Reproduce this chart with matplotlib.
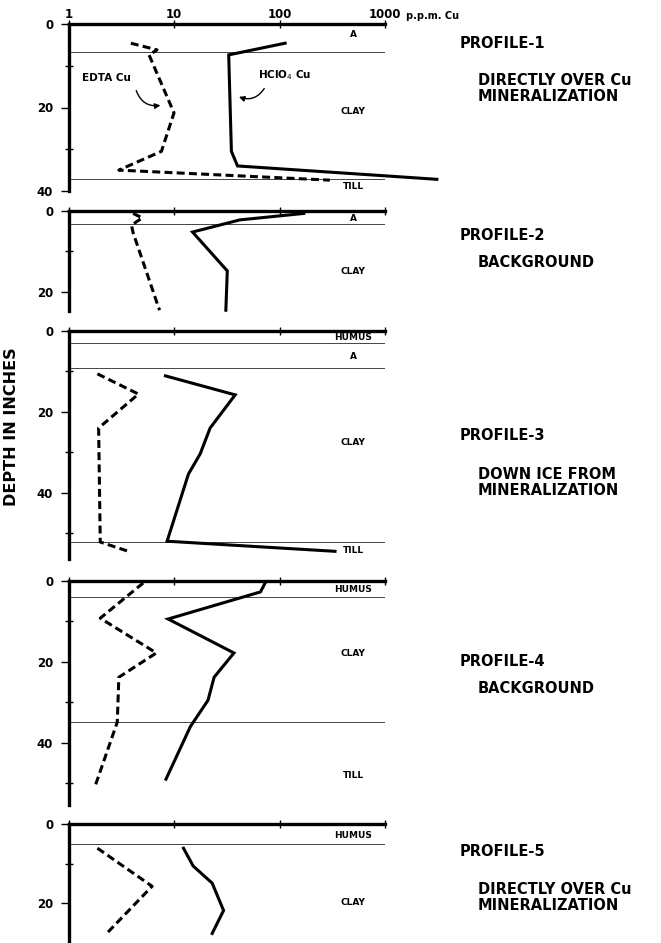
import matplotlib
matplotlib.use("Agg")
import matplotlib.pyplot as plt

# ---------------- data (ppm Cu vs depth in inches) ----------------
p1_edta_ppm = [3.9, 6.9, 5.8, 10, 7.6, 3.0, 300]
p1_edta_depth = [4.6, 6.2, 7.4, 21.3, 30.5, 35, 37.4]
p1_hclo4_ppm = [113, 33, 35, 40, 3100]
p1_hclo4_depth = [4.6, 7.4, 30.5, 34.0, 37.2]

p2_edta_ppm = [4.1, 5.0, 3.95, 4.1, 6.9, 7.3]
p2_edta_depth = [0.6, 1.7, 3.5, 5.4, 22.7, 24.5]
p2_hclo4_ppm = [170, 42, 15, 32, 31]
p2_hclo4_depth = [0.6, 2.2, 5.2, 14.8, 24.5]

p3_edta_ppm = [1.88, 4.6, 1.93, 2.0, 3.7]
p3_edta_depth = [10.6, 15.6, 24.0, 52.2, 54.5]
p3_hclo4_ppm = [8.3, 38, 22, 17.7, 13.7, 8.6, 336]
p3_hclo4_depth = [11.1, 15.8, 24.0, 30.4, 35.4, 52.0, 54.5]

p4_edta_ppm = [5.1, 2.0, 6.8, 3.0, 2.9, 1.8]
p4_edta_depth = [0.5, 9.2, 17.8, 23.8, 34.9, 50.5]
p4_hclo4_ppm = [73, 66, 8.8, 37, 24, 21, 14.3, 8.4]
p4_hclo4_depth = [0.5, 2.7, 9.4, 17.8, 23.8, 29.5, 36.0, 49.0]

p5_edta_ppm = [1.88, 6.2, 2.3]
p5_edta_depth = [6.1, 15.7, 27.6]
p5_hclo4_ppm = [12.3, 15.2, 23, 29.5, 23]
p5_hclo4_depth = [6.1, 10.6, 14.9, 21.8, 27.6]

# horizon boundaries (depth) and horizon labels (name, depth)
p1_horizons = [6.7, 37.2]
p1_labels = [("A", 2.6), ("CLAY", 20.9), ("TILL", 39.0)]
p2_horizons = [3.2]
p2_labels = [("A", 1.9), ("CLAY", 15.0)]
p3_horizons = [3.0, 9.2, 52.2]
p3_labels = [("HUMUS", 1.6), ("A", 6.2), ("CLAY", 27.7), ("TILL", 54.2)]
p4_horizons = [4.0, 34.9]
p4_labels = [("HUMUS", 2.2), ("CLAY", 18.0), ("TILL", 48.0)]
p5_horizons = [5.1]
p5_labels = [("HUMUS", 2.8), ("CLAY", 19.7)]

profile_titles = ["PROFILE-1", "PROFILE-2", "PROFILE-3", "PROFILE-4", "PROFILE-5"]
profile_notes = ["DIRECTLY OVER Cu\nMINERALIZATION", "BACKGROUND",
                 "DOWN ICE FROM\nMINERALIZATION", "BACKGROUND",
                 "DIRECTLY OVER Cu\nMINERALIZATION"]
x_ticks = [1, 10, 100, 1000]
x_tick_labels = ["1", "10", "100", "1000"]

# ---------------- layout ----------------
W, H = 661, 943
fig = plt.figure(figsize=(W / 100, H / 100), dpi=100)

# (top px, bottom px, max depth, labelled y ticks, minor y ticks)
layout = [
    (24, 191, 40.0, [0, 20, 40], [10, 30]),
    (211, 311, 24.7, [0, 20], [10]),
    (331, 559, 56.4, [0, 20, 40], [10, 30, 50]),
    (581, 805, 55.4, [0, 20, 40], [10, 30, 50]),
    (824, 943, 30.0, [0, 20], [10]),
]
title_pos = [(43, 80), (236, 262), (436, 474), (662, 688), (852, 889)]

profiles = [
    (p1_edta_ppm, p1_edta_depth, p1_hclo4_ppm, p1_hclo4_depth, p1_horizons, p1_labels),
    (p2_edta_ppm, p2_edta_depth, p2_hclo4_ppm, p2_hclo4_depth, p2_horizons, p2_labels),
    (p3_edta_ppm, p3_edta_depth, p3_hclo4_ppm, p3_hclo4_depth, p3_horizons, p3_labels),
    (p4_edta_ppm, p4_edta_depth, p4_hclo4_ppm, p4_hclo4_depth, p4_horizons, p4_labels),
    (p5_edta_ppm, p5_edta_depth, p5_hclo4_ppm, p5_hclo4_depth, p5_horizons, p5_labels),
]

x0, x1 = 68.5, 385
axes = []
for i, ((top, bot, dmax, yt, ymin), prof) in enumerate(zip(layout, profiles)):
    ax = fig.add_axes([x0 / W, 1 - bot / H, (x1 - x0) / W, (bot - top) / H])
    axes.append(ax)
    e_x, e_y, h_x, h_y, hz, lbls = prof
    ax.set_xscale("log")
    ax.set_xlim(1, 1000)
    ax.set_ylim(dmax, 0)
    for d in hz:
        ax.axhline(d, color="#444444", lw=0.7, zorder=1)
    ax.plot(e_x, e_y, color="black", lw=2.2, linestyle=(0, (2.6, 1.4)),
            clip_on=False, zorder=3)
    ax.plot(h_x, h_y, color="black", lw=2.2, clip_on=False, zorder=3,
            solid_joinstyle="miter")
    for name, d in lbls:
        ax.text(0.90, d, name, transform=ax.get_yaxis_transform(),
                ha="center", va="center", fontsize=6.5, fontweight="bold")
    for s in ("right", "bottom"):
        ax.spines[s].set_visible(False)
    for s in ("top", "left"):
        ax.spines[s].set_linewidth(2.4)
    ax.set_xticks(x_ticks)
    ax.minorticks_off()
    ax.xaxis.set_ticks_position("top")
    if i == 0:
        ax.set_xticklabels(x_tick_labels)
        ax.tick_params(axis="x", labeltop=True, labelsize=8.5, pad=-1)
    else:
        ax.tick_params(axis="x", labeltop=False)
    ax.tick_params(axis="x", direction="inout", length=6, width=1)
    ax.set_yticks(yt)
    ax.set_yticklabels([str(v) for v in yt])
    ax.set_yticks(ymin, minor=True)
    ax.tick_params(axis="y", which="major", direction="out", length=6, width=1,
                   labelsize=8.5, pad=5)
    ax.tick_params(axis="y", which="minor", direction="inout", length=6, width=1)
    for lab in ax.get_xticklabels() + ax.get_yticklabels():
        lab.set_fontweight("bold")
    ax.patch.set_alpha(0)

    ty, ny = title_pos[i]
    fig.text(460 / W, 1 - ty / H, profile_titles[i], fontsize=10.5, fontweight="bold",
             ha="left", va="center")
    fig.text(478 / W, 1 - (ny - 7) / H, profile_notes[i], fontsize=10.5, fontweight="bold",
             ha="left", va="top", linespacing=1.1)

# units label
fig.text(406 / W, 1 - 16 / H, "p.p.m. Cu", fontsize=7, fontweight="bold",
         ha="left", va="center")

# curve labels in profile 1
ax1 = axes[0]
ax1.text(1.35, 13, "EDTA Cu", fontsize=7.5, fontweight="bold", ha="left", va="center")
ax1.text(62, 12.2, r"HClO$_4$ Cu", fontsize=7.5, fontweight="bold", ha="left", va="center")
ax1.annotate("", xy=(7.9, 19.4), xytext=(4.3, 15.3),
             arrowprops=dict(arrowstyle="-|>", connectionstyle="arc3,rad=0.45",
                             lw=1.0, color="black", mutation_scale=8))
ax1.annotate("", xy=(39, 17.2), xytext=(74, 14.9),
             arrowprops=dict(arrowstyle="-|>", connectionstyle="arc3,rad=-0.45",
                             lw=1.0, color="black", mutation_scale=8))

# y axis title
fig.text(12 / W, 1 - 427 / H, "DEPTH IN INCHES", rotation=90, fontsize=11.5,
         fontweight="bold", ha="center", va="center")

fig.savefig("out.png", dpi=100)
